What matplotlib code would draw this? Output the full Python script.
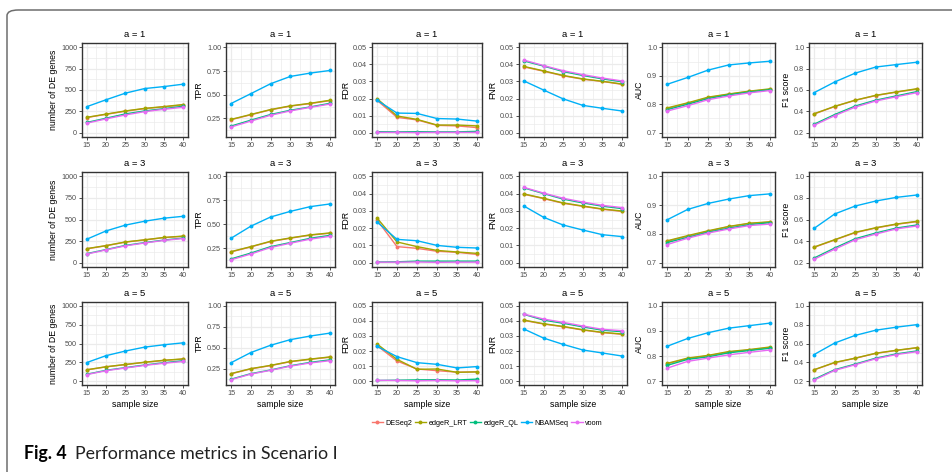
import numpy as np
import matplotlib
matplotlib.use('Agg')
import matplotlib.pyplot as plt
from matplotlib.lines import Line2D
from matplotlib.patches import FancyBboxPatch

# ================= data ===================

sample_size = [15, 20, 25, 30, 35, 40]
a_values = [1, 3, 5]
methods = ['DESeq2', 'edgeR_LRT', 'edgeR_QL', 'NBAMSeq', 'voom']
colors = ['#F8766D', '#A3A500', '#00BF7D', '#00B0F6', '#E76BF3']

# each metric: [a=1, a=3, a=5], each row: one list per method (order as `methods`)
de_genes = [
    [[178, 215, 252, 282, 302, 325], [180, 218, 255, 285, 306, 330], [120, 170, 220, 255, 282, 310],
     [305, 386, 463, 517, 540, 568], [112, 162, 208, 247, 274, 298]],
    [[160, 196, 238, 263, 290, 305], [163, 198, 240, 265, 292, 308], [105, 152, 200, 232, 262, 285],
     [272, 368, 435, 480, 515, 537], [100, 148, 195, 228, 258, 280]],
    [[150, 190, 220, 250, 275, 293], [152, 192, 222, 252, 278, 296], [92, 145, 180, 215, 245, 272],
     [248, 339, 400, 452, 483, 509], [88, 140, 175, 210, 238, 262]],
]
tpr = [
    [[0.237, 0.289, 0.341, 0.380, 0.407, 0.438], [0.240, 0.292, 0.344, 0.383, 0.410, 0.442],
     [0.170, 0.232, 0.292, 0.337, 0.372, 0.410], [0.407, 0.511, 0.616, 0.693, 0.728, 0.756],
     [0.160, 0.222, 0.284, 0.330, 0.367, 0.402]],
    [[0.212, 0.264, 0.320, 0.355, 0.387, 0.407], [0.215, 0.267, 0.323, 0.358, 0.390, 0.410],
     [0.139, 0.200, 0.267, 0.310, 0.354, 0.385], [0.354, 0.480, 0.576, 0.635, 0.684, 0.712],
     [0.130, 0.190, 0.258, 0.303, 0.345, 0.375]],
    [[0.188, 0.247, 0.286, 0.333, 0.361, 0.387], [0.191, 0.250, 0.289, 0.336, 0.364, 0.390],
     [0.124, 0.190, 0.234, 0.285, 0.325, 0.355], [0.320, 0.442, 0.529, 0.596, 0.639, 0.674],
     [0.118, 0.185, 0.230, 0.280, 0.318, 0.345]],
]
fdr = [
    [[0.0190, 0.0090, 0.0075, 0.0043, 0.0040, 0.0030], [0.0200, 0.0098, 0.0078, 0.0045, 0.0045, 0.0040],
     [0.0006, 0.0005, 0.0006, 0.0005, 0.0005, 0.0008], [0.0190, 0.0115, 0.0113, 0.0083, 0.0080, 0.0068],
     [0.0002, 0.0002, 0.0001, 0.0002, 0.0002, 0.0002]],
    [[0.0247, 0.0093, 0.0083, 0.0066, 0.0060, 0.0048], [0.0259, 0.0120, 0.0093, 0.0071, 0.0062, 0.0054],
     [0.0004, 0.0005, 0.0009, 0.0009, 0.0009, 0.0009], [0.0236, 0.0135, 0.0127, 0.0100, 0.0089, 0.0085],
     [0.0003, 0.0003, 0.0004, 0.0002, 0.0003, 0.0003]],
    [[0.0236, 0.0134, 0.0081, 0.0070, 0.0060, 0.0062], [0.0247, 0.0145, 0.0079, 0.0081, 0.0059, 0.0062],
     [0.0005, 0.0007, 0.0009, 0.0010, 0.0008, 0.0014], [0.0231, 0.0163, 0.0123, 0.0112, 0.0088, 0.0097],
     [0.0006, 0.0005, 0.0003, 0.0005, 0.0003, 0.0004]],
]
fnr = [
    [[0.0385, 0.0360, 0.0333, 0.0313, 0.0300, 0.0283], [0.0388, 0.0362, 0.0335, 0.0315, 0.0301, 0.0285],
     [0.0420, 0.0390, 0.0358, 0.0335, 0.0315, 0.0298], [0.0303, 0.0250, 0.0198, 0.0160, 0.0143, 0.0127],
     [0.0425, 0.0393, 0.0363, 0.0340, 0.0320, 0.0303]],
    [[0.0396, 0.0371, 0.0344, 0.0326, 0.0309, 0.0297], [0.0398, 0.0373, 0.0346, 0.0328, 0.0311, 0.0299],
     [0.0433, 0.0400, 0.0368, 0.0346, 0.0327, 0.0313], [0.0328, 0.0263, 0.0218, 0.0189, 0.0162, 0.0151],
     [0.0436, 0.0403, 0.0373, 0.0351, 0.0332, 0.0319]],
    [[0.0403, 0.0379, 0.0361, 0.0339, 0.0322, 0.0311], [0.0405, 0.0381, 0.0363, 0.0341, 0.0324, 0.0313],
     [0.0443, 0.0405, 0.0384, 0.0360, 0.0338, 0.0328], [0.0346, 0.0286, 0.0244, 0.0207, 0.0187, 0.0167],
     [0.0445, 0.0412, 0.0390, 0.0366, 0.0344, 0.0335]],
]
auc = [
    [[0.785, 0.803, 0.823, 0.835, 0.845, 0.852], [0.787, 0.805, 0.825, 0.836, 0.846, 0.854],
     [0.781, 0.800, 0.820, 0.833, 0.843, 0.851], [0.870, 0.894, 0.920, 0.938, 0.945, 0.951],
     [0.776, 0.795, 0.816, 0.829, 0.840, 0.848]],
    [[0.774, 0.792, 0.809, 0.825, 0.836, 0.841], [0.776, 0.794, 0.811, 0.826, 0.837, 0.842],
     [0.770, 0.788, 0.806, 0.820, 0.832, 0.839], [0.849, 0.885, 0.906, 0.921, 0.933, 0.939],
     [0.763, 0.785, 0.803, 0.817, 0.829, 0.834]],
    [[0.769, 0.790, 0.801, 0.816, 0.824, 0.834], [0.771, 0.792, 0.803, 0.818, 0.826, 0.836],
     [0.763, 0.787, 0.797, 0.813, 0.822, 0.831], [0.839, 0.870, 0.893, 0.911, 0.921, 0.931],
     [0.752, 0.779, 0.792, 0.805, 0.815, 0.824]],
]
f1 = [
    [[0.375, 0.445, 0.503, 0.548, 0.580, 0.608], [0.378, 0.447, 0.505, 0.550, 0.582, 0.612],
     [0.280, 0.370, 0.450, 0.505, 0.545, 0.585], [0.575, 0.675, 0.758, 0.815, 0.838, 0.860],
     [0.270, 0.360, 0.440, 0.497, 0.537, 0.575]],
    [[0.342, 0.410, 0.478, 0.521, 0.555, 0.580], [0.345, 0.413, 0.481, 0.524, 0.558, 0.583],
     [0.243, 0.336, 0.422, 0.475, 0.521, 0.549], [0.518, 0.651, 0.725, 0.771, 0.805, 0.827],
     [0.232, 0.325, 0.412, 0.465, 0.513, 0.540]],
    [[0.320, 0.397, 0.443, 0.495, 0.526, 0.554], [0.322, 0.399, 0.445, 0.497, 0.528, 0.556],
     [0.221, 0.322, 0.382, 0.445, 0.490, 0.521], [0.483, 0.605, 0.686, 0.741, 0.773, 0.800],
     [0.212, 0.315, 0.375, 0.438, 0.483, 0.513]],
]

metrics = [de_genes, tpr, fdr, fnr, auc, f1]
ylabels = ['number of DE genes', 'TPR', 'FDR', 'FNR', 'AUC', 'F1 score']
ylims = [(0, 1000), (0.1, 1.0), (0, 0.05), (0, 0.05), (0.7, 1.0), (0.2, 1.0)]
yticks = [[0, 250, 500, 750, 1000], [0.25, 0.5, 0.75, 1.0],
          [0, 0.01, 0.02, 0.03, 0.04, 0.05], [0, 0.01, 0.02, 0.03, 0.04, 0.05],
          [0.7, 0.8, 0.9, 1.0], [0.2, 0.4, 0.6, 0.8, 1.0]]
yfmt = ['{:.0f}', '{:.2f}', '{:.2f}', '{:.2f}', '{:.1f}', '{:.1f}']

# ================= layout (pixels) ===================

W, H = 952, 472
col_x = [(82, 188), (226, 335), (372, 482), (519, 627), (662, 775), (809, 922)]
row_y = [(43, 137), (172, 267), (302, 385)]

plt.rcParams['font.family'] = ['Liberation Sans', 'DejaVu Sans']
fig = plt.figure(figsize=(W / 100, H / 100), dpi=100)

grid_c = '#EBEBEB'
border_c = '#333333'
tick_c = '#4D4D4D'


def minor_ticks(major, lo, hi):
    step = major[1] - major[0]
    m = np.arange(major[0] - step / 2, major[-1] + step, step)
    return m[(m > lo) & (m < hi)]


for r, a in enumerate(a_values):
    for c, data in enumerate(metrics):
        x0, x1 = col_x[c]
        y0, y1 = row_y[r]
        ax = fig.add_axes([x0 / W, 1 - y1 / H, (x1 - x0) / W, (y1 - y0) / H])

        lo, hi = ylims[c]
        pad = (hi - lo) * 0.05
        ax.set_ylim(lo - pad, hi + pad)
        ax.set_xlim(15 - 1.25, 40 + 1.25)

        # grid (ggplot theme_bw)
        for v in minor_ticks(yticks[c], lo - pad, hi + pad):
            ax.axhline(v, color=grid_c, lw=0.5, zorder=0)
        for v in minor_ticks(sample_size, 13.75, 41.25):
            ax.axvline(v, color=grid_c, lw=0.5, zorder=0)
        for v in yticks[c]:
            ax.axhline(v, color=grid_c, lw=0.9, zorder=0)
        for v in sample_size:
            ax.axvline(v, color=grid_c, lw=0.9, zorder=0)

        for m, col in enumerate(colors):
            ax.plot(sample_size, data[r][m], color=col, lw=1.0, marker='o',
                    markersize=2.8, markeredgewidth=0, zorder=2 + m)

        ax.set_xticks(sample_size)
        ax.set_yticks(yticks[c])
        ax.set_yticklabels([yfmt[c].format(v) for v in yticks[c]])
        ax.tick_params(length=2, width=0.6, color=border_c, labelcolor=tick_c,
                       labelsize=5.2, pad=1.5)
        for s in ax.spines.values():
            s.set_color(border_c)
            s.set_linewidth(1.0)

        ax.set_title(f'a = {a}', fontsize=6.8, pad=4)
        ax.set_ylabel(ylabels[c], fontsize=6.3, labelpad=2)
        if r == 2:
            ax.set_xlabel('sample size', fontsize=6.3, labelpad=2)

# legend
handles = [Line2D([], [], color=col, lw=1.0, marker='o', markersize=2.8,
                  markeredgewidth=0) for col in colors]
fig.legend(handles, methods, loc='center', bbox_to_anchor=(487 / W, 1 - 423 / H),
           ncol=5, frameon=False, fontsize=5.2, handlelength=1.6,
           handletextpad=0.3, columnspacing=0.35, borderaxespad=0)

# frame and caption
frame = FancyBboxPatch((7 / W, -0.2), 1.2, 1 - 10 / H + 0.2,
                       boxstyle='round,pad=0,rounding_size=0.012',
                       transform=fig.transFigure, fill=False,
                       edgecolor='#6E6E6E', lw=1.1, clip_on=False)
fig.patches.append(frame)

fig.text(24 / W, 1 - 459 / H, 'Fig. 4', fontsize=12.8, fontweight='bold',
         family='Lato', va='baseline', ha='left')
fig.text(75 / W, 1 - 459 / H, 'Performance metrics in Scenario I', fontsize=12.8,
         family='Lato', va='baseline', ha='left', color='#222222')

plt.savefig('out.png', dpi=100)
